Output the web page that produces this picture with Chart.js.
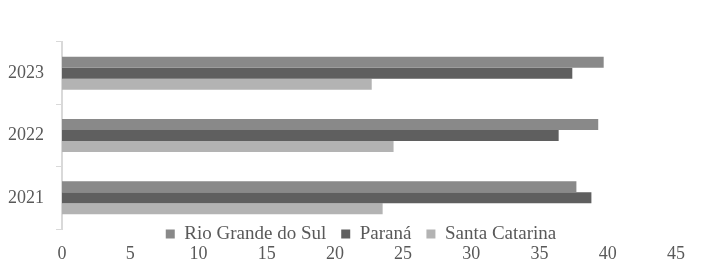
<!DOCTYPE html>
<html>
<head>
<meta charset="utf-8">
<script src="https://cdn.jsdelivr.net/npm/chart.js@4/dist/chart.umd.min.js"></script>
<style>
  html, body { margin: 0; padding: 0; background: #ffffff; }
  #wrap { width: 715px; height: 265px; position: relative; }
</style>
</head>
<body>
<div id="wrap"><canvas id="c" width="715" height="265"></canvas></div>
<script>
const years = ['2023', '2022', '2021'];
const seriesNames = ['Rio Grande do Sul', 'Paraná', 'Santa Catarina'];
const rioGrandeDoSul = [39.7, 39.3, 37.7];
const parana = [37.4, 36.4, 38.8];
const santaCatarina = [22.7, 24.3, 23.5];
const xTicks = [0, 5, 10, 15, 20, 25, 30, 35, 40, 45];

const colors = ['#898989', '#5f5f5f', '#b3b3b3'];
const textColor = '#595959';
const fontFamily = '"Liberation Serif", "Times New Roman", serif';
const legendFontSize = 19;

// Place the legend just under the plot area, above the x tick labels (as in the reference)
const legendPlacer = {
  id: 'legendPlacer',
  afterLayout(chart) {
    const lg = chart.legend;
    if (!lg) return;
    const pad = lg.options.labels.padding;
    const targetMid = chart.chartArea.bottom + 5;
    const dx = 361 - (lg.left + lg.right) / 2;
    lg.left += dx; lg.right += dx;
    lg.top = targetMid - pad - legendFontSize / 2;
    lg.bottom = targetMid + 14;
    lg.height = lg.bottom - lg.top;
  }
};

new Chart(document.getElementById('c'), {
  type: 'bar',
  data: {
    labels: years,
    datasets: [
      { label: seriesNames[0], data: rioGrandeDoSul, backgroundColor: colors[0] },
      { label: seriesNames[1], data: parana, backgroundColor: colors[1] },
      { label: seriesNames[2], data: santaCatarina, backgroundColor: colors[2] }
    ]
  },
  options: {
    indexAxis: 'y',
    responsive: false,
    animation: false,
    maintainAspectRatio: false,
    datasets: { bar: { categoryPercentage: 0.53, barPercentage: 1.0, borderWidth: 0 } },
    layout: { padding: { left: 0, right: 39, top: 42, bottom: 2 } },
    scales: {
      x: {
        type: 'linear',
        min: 0, max: 45,
        afterBuildTicks(axis) { axis.ticks = xTicks.map(v => ({ value: v })); },
        afterFit(axis) { axis.height = 33; },
        grid: { display: false, drawTicks: false },
        border: { display: false },
        ticks: { color: textColor, padding: 14, font: { family: fontFamily, size: 18 } }
      },
      y: {
        afterFit(axis) { axis.width = 62; },
        grid: { display: true, drawOnChartArea: false, drawTicks: true, tickLength: 6, color: '#d9d9d9', lineWidth: 1, offset: true },
        border: { display: true, color: '#d9d9d9', width: 2 },
        ticks: { color: textColor, padding: 12, font: { family: fontFamily, size: 18 } }
      }
    },
    plugins: {
      legend: {
        position: 'bottom',
        maxHeight: 1,
        labels: {
          boxWidth: 9, boxHeight: 9, padding: 15,
          color: textColor,
          font: { family: fontFamily, size: legendFontSize }
        }
      },
      tooltip: { enabled: false }
    }
  },
  plugins: [legendPlacer]
});
</script>
</body>
</html>
